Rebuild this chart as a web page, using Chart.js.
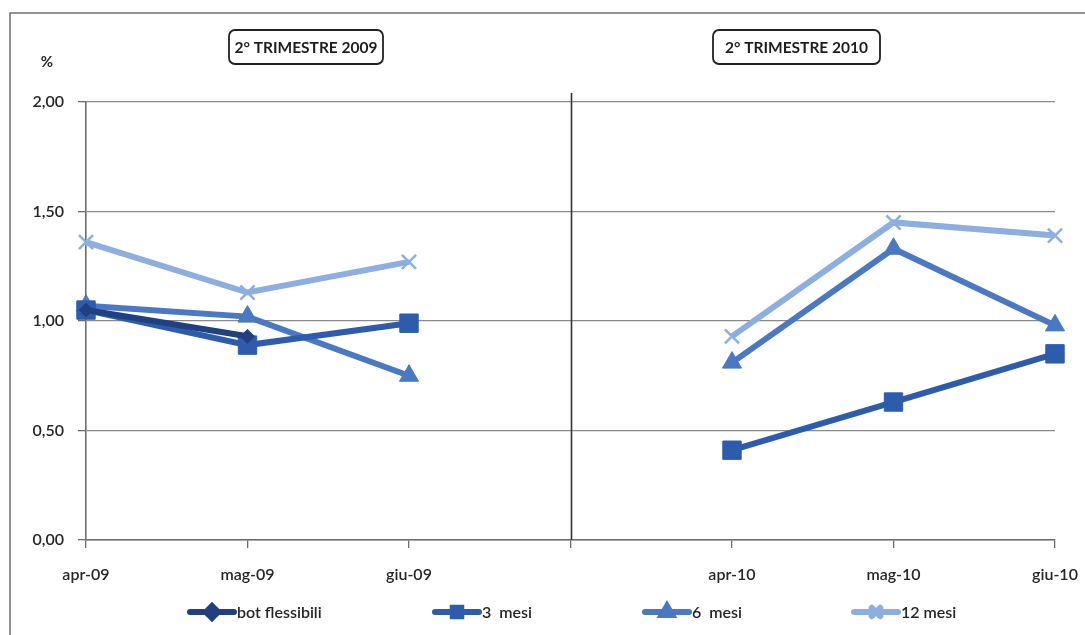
<!DOCTYPE html>
<html>
<head>
<meta charset="utf-8">
<script src="https://cdn.jsdelivr.net/npm/chart.js@4/dist/chart.umd.min.js"></script>
<style>
  html, body { margin: 0; padding: 0; background: #ffffff; }
  canvas { display: block; }
</style>
</head>
<body>
<canvas id="c" width="1085" height="635"></canvas>
<script>
// Monthly yields (%) for the second quarter of 2009 and of 2010.
// The empty slot between the two quarters holds the separator line.
const months = ['apr-09', 'mag-09', 'giu-09', '', 'apr-10', 'mag-10', 'giu-10'];
const botFlessibili = [1.05, 0.93, null, null, null, null, null];
const mesi3  = [1.05, 0.89, 0.99, null, 0.41, 0.63, 0.85];
const mesi6  = [1.07, 1.02, 0.75, null, 0.81, 1.33, 0.98];
const mesi12 = [1.36, 1.13, 1.27, null, 0.93, 1.45, 1.39];
const periodTitles = ['2° TRIMESTRE 2009', '2° TRIMESTRE 2010'];
const yTicks = [0, 0.5, 1, 1.5, 2];

const FONT = "Lato, 'Open Sans', 'DejaVu Sans', sans-serif";
const TEXT = '#262626';

const series = [
  { label: 'bot flessibili', data: botFlessibili, color: '#20407f', style: 'rectRot',  radius: 7 },
  { label: '3  mesi',        data: mesi3,         color: '#2e5cad', style: 'rect',     radius: 13 },
  { label: '6  mesi',        data: mesi6,         color: '#4a78c2', style: 'triangle', radius: 11 },
  { label: '12 mesi',        data: mesi12,        color: '#8daee0', style: 'crossRot', radius: 10 }
];

// Frame, period boxes, unit label, separator and legend
const decorations = {
  id: 'decorations',
  beforeDatasetsDraw(chart) {
    const { ctx, chartArea, scales } = chart;
    ctx.save();
    // separator between the two quarters
    const xs = scales.x.getPixelForValue(3);
    ctx.strokeStyle = '#333333';
    ctx.lineWidth = 1.6;
    ctx.beginPath();
    ctx.moveTo(Math.round(xs) + 0.5, 93);
    ctx.lineTo(Math.round(xs) + 0.5, chartArea.bottom);
    ctx.stroke();
    ctx.restore();
  },
  afterDraw(chart) {
    const { ctx } = chart;
    ctx.save();
    // outer frame (top and left edges)
    ctx.strokeStyle = '#6e6e6e';
    ctx.lineWidth = 1.5;
    ctx.beginPath();
    ctx.moveTo(10, 640);
    ctx.lineTo(10, 13);
    ctx.lineTo(1090, 13);
    ctx.stroke();

    // unit label
    ctx.fillStyle = TEXT;
    ctx.font = "bold 15px " + FONT;
    ctx.textAlign = 'center';
    ctx.textBaseline = 'middle';
    ctx.fillText('%', 47, 62);

    // period boxes
    const boxes = [
      { x: 229, y: 30, w: 154, h: 34 },
      { x: 713, y: 30, w: 167, h: 34 }
    ];
    ctx.font = "bold 15.5px " + FONT;
    boxes.forEach((b, i) => {
      ctx.beginPath();
      ctx.roundRect(b.x, b.y, b.w, b.h, 6);
      ctx.fillStyle = '#ffffff';
      ctx.fill();
      ctx.strokeStyle = '#222222';
      ctx.lineWidth = 1.8;
      ctx.stroke();
      ctx.fillStyle = '#1e1e1e';
      ctx.fillText(periodTitles[i], b.x + b.w / 2, b.y + b.h / 2 + 1);
    });

    // legend
    const legendY = 612;
    const legendX = [190, 435, 645, 854];
    ctx.font = "600 16px " + FONT;
    ctx.textAlign = 'left';
    chart.data.datasets.forEach((ds, i) => {
      const x0 = legendX[i];
      const len = 44;
      ctx.strokeStyle = ds.borderColor;
      ctx.lineWidth = 6;
      ctx.lineCap = 'round';
      ctx.beginPath();
      ctx.moveTo(x0, legendY);
      ctx.lineTo(x0 + len, legendY);
      ctx.stroke();
      ctx.fillStyle = ds.borderColor;
      ctx.strokeStyle = ds.borderColor;
      Chart.helpers.drawPoint(ctx, {
        pointStyle: ds.pointStyle,
        radius: Math.min(ds.pointRadius, 6),
        rotation: 0,
        borderWidth: ds.pointBorderWidth
      }, x0 + len / 2, legendY);
      ctx.fillStyle = TEXT;
      ctx.fillText(ds.label, x0 + len + 3, legendY + 1);
    });
    ctx.restore();
  }
};

new Chart(document.getElementById('c'), {
  type: 'line',
  data: {
    labels: months,
    datasets: series.map(s => ({
      label: s.label,
      data: s.data,
      borderColor: s.color,
      backgroundColor: s.color,
      borderWidth: 6,
      pointStyle: s.style,
      pointRadius: s.radius,
      pointBackgroundColor: s.color,
      pointBorderColor: s.color,
      pointBorderWidth: s.style === 'crossRot' ? 2.5 : 1,
      spanGaps: false,
      tension: 0
    }))
  },
  options: {
    responsive: false,
    animation: false,
    devicePixelRatio: 1,
    layout: { padding: { top: 102, right: 0, left: 0, bottom: 0 } },
    plugins: {
      legend: { display: false },
      title: { display: false },
      tooltip: { enabled: false }
    },
    scales: {
      x: {
        type: 'category',
        offset: false,
        grid: { drawOnChartArea: false, tickLength: 8, tickColor: '#6e6e6e', lineWidth: 1.3 },
        border: { color: '#6e6e6e', width: 1.6 },
        ticks: {
          color: TEXT,
          font: { family: FONT, size: 16, weight: 600 },
          padding: 17,
          maxRotation: 0,
          autoSkip: false
        },
        afterFit(scale) {
          scale.height = 95;
          scale.paddingLeft = 0;
          scale.paddingRight = 30;
        }
      },
      y: {
        min: 0,
        max: 2,
        afterBuildTicks(scale) { scale.ticks = yTicks.map(v => ({ value: v })); },
        grid: { color: '#8a8a8a', lineWidth: 1.3, tickLength: 8, tickColor: '#6e6e6e' },
        border: { color: '#6e6e6e', width: 1.6 },
        ticks: {
          color: TEXT,
          font: { family: FONT, size: 16, weight: 600 },
          padding: 14,
          callback: v => v.toFixed(2).replace('.', ',')
        },
        afterFit(scale) { scale.width = 86; }
      }
    }
  },
  plugins: [decorations]
});
</script>
</body>
</html>
